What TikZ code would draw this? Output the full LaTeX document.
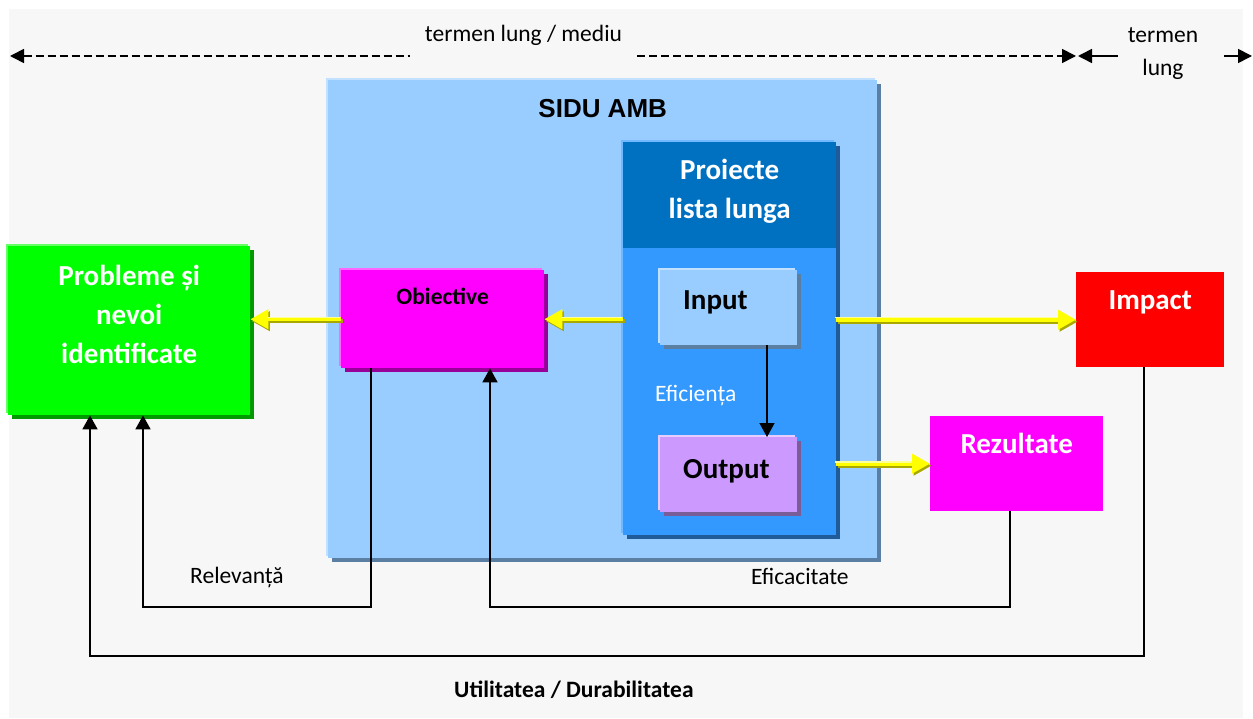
\documentclass[tikz,border=0pt]{standalone}
\usepackage{fontspec}
\setmainfont{Carlito}
\newfontfamily\arialfont{Liberation Sans}
\usepackage{tikz}
\usetikzlibrary{arrows.meta,positioning,shadows}
\definecolor{sidBg}{HTML}{F7F7F7}
\definecolor{sidLight}{HTML}{99CCFF}
\definecolor{sidLightHi}{HTML}{C2E0FF}
\definecolor{sidLightSh}{HTML}{5A7FA3}
\definecolor{sidDark}{HTML}{0070C0}
\definecolor{sidMid}{HTML}{3399FF}
\definecolor{sidMidHi}{HTML}{70B8FF}
\definecolor{sidMidSh}{HTML}{1F5A99}
\definecolor{sidGreen}{HTML}{00FF00}
\definecolor{sidGreenHi}{HTML}{66FF66}
\definecolor{sidGreenSh}{HTML}{009900}
\definecolor{sidMagenta}{HTML}{FF00FF}
\definecolor{sidMagentaHi}{HTML}{FF66FF}
\definecolor{sidMagentaSh}{HTML}{990099}
\definecolor{sidLilac}{HTML}{CC99FF}
\definecolor{sidLilacHi}{HTML}{E6CCFF}
\definecolor{sidLilacSh}{HTML}{7A5C99}
\definecolor{sidRed}{HTML}{FF0000}
\definecolor{sidYellow}{HTML}{FFFF00}
\definecolor{sidPale}{HTML}{FFFF99}
\definecolor{sidOlive}{HTML}{A8A800}

\begin{document}
\begin{tikzpicture}[
  x=1pt, y=-1pt,
  font=\fontsize{23.5}{33}\selectfont,
  sbox/.style={inner sep=0pt, align=center, anchor=north west},
  bigtext/.style={font=\bfseries\fontsize{29}{39}\selectfont},
  boxshadow/.style 2 args={general shadow={fill=#2, shadow xshift=-2pt, shadow yshift=2pt},
    general shadow={fill=#1, shadow xshift=4pt, shadow yshift=-4pt}},
  fb/.style={-{Triangle[length=14pt,width=15pt]}, line width=1.8pt, draw=black},
  spanline/.style={line width=1.6pt, draw=black},
  yarrow/.style={-{Triangle[length=18pt,width=19pt]}, line width=4pt, draw=sidYellow},
  yunder/.style={-{Triangle[length=18pt,width=19pt]}, line width=4pt, draw=sidOlive, transform canvas={shift={(1.5pt,-2pt)}}},
  yover/.style={line width=1.2pt, draw=sidPale, shorten >=18pt, transform canvas={shift={(-1pt,1.8pt)}}},
  lbl/.style={inner sep=0pt}
]
  \fill[white] (0,0) rectangle (1253,719);
  \useasboundingbox (0,0) rectangle (1253,719);
  \fill[sidBg] (9,9) rectangle (1243,718);

  % time span on top
  \coordinate (tl) at (10,56);
  \coordinate (tr) at (1076,56);
  \coordinate (tl2) at (1078,56);
  \coordinate (tr2) at (1252,56);
  \node[lbl, inner xsep=15pt, anchor=base] (tlm) at (523.5,42) {termen lung / mediu};
  \node[lbl, inner xsep=10pt, align=center] (tlg) at (1163,54) {termen\\lung};
  \draw[spanline, dash pattern=on 8pt off 4pt, {Triangle[length=14pt,width=14pt]}-] (tl) -- (tl -| tlm.west);
  \draw[spanline, dash pattern=on 8pt off 4pt, -{Triangle[length=14pt,width=14pt]}] (tlm.east |- tl) -- (tr);
  \draw[spanline, {Triangle[length=14pt,width=14pt]}-] (tl2) -- (tl2 -| tlg.west);
  \draw[spanline, -{Triangle[length=14pt,width=14pt]}] ([xshift=16pt]tlg.east |- tl2) -- (tr2);

  % boxes
  \node[sbox, fill=sidLight, boxshadow={sidLightSh}{sidLightHi}, font=\arialfont\bfseries\fontsize{26}{30}\selectfont,
    minimum width=549pt, text height=37pt, text depth=441pt] (sidu) at (328,80) {SIDU AMB};
  \node[sbox, fill=sidMid, boxshadow={sidMidSh}{sidMidHi}, minimum width=213pt, minimum height=393pt] (proiectb) at (623,142) {};
  \node[sbox, fill=sidDark, text=white, bigtext, minimum width=213pt, text height=76pt, text depth=30pt] (proiect) at (623,142) {Proiecte\\lista lunga};
  \node[sbox, fill=sidLight, boxshadow={sidLightSh}{sidLightHi}, bigtext, align=left, text width=91pt, inner xsep=23pt,
    text height=39pt, text depth=36pt] (input) at (660,270) {Input};
  \node[sbox, fill=sidLilac, boxshadow={sidLilacSh}{sidLilacHi}, bigtext, align=left, text width=91pt, inner xsep=23pt,
    text height=41pt, text depth=34pt] (output) at (660,437) {Output};
  \node[lbl, text=white, anchor=base west] (efic) at (655,401) {Eficiența};
  \node[sbox, fill=sidMagenta, boxshadow={sidMagentaSh}{sidMagentaHi}, font=\bfseries\fontsize{23.5}{28}\selectfont,
    minimum width=203pt, text height=34pt, text depth=64pt] (obiect) at (341,270) {Obiective};
  \node[sbox, fill=sidGreen, boxshadow={sidGreenSh}{sidGreenHi}, text=white, bigtext, minimum width=242pt,
    text height=117pt, text depth=52pt] (probl) at (8,246) {Probleme și\\nevoi\\identificate};
  \node[sbox, fill=sidRed, text=white, bigtext, minimum width=148pt, text height=37pt, text depth=58pt] (impact) at (1076,272) {Impact};
  \node[sbox, fill=sidMagenta, text=white, bigtext, minimum width=173pt, text height=37pt, text depth=58pt] (rezult) at (930,416) {Rezultate};

  % flows
  \draw[fb, line width=1.5pt] ([xshift=107pt]input.south west) -- ([xshift=107pt]output.north west);
  \foreach \src/\dst in {impact.west -| proiectb.east/impact.west,
                         rezult.west -| proiectb.east/rezult.west,
                         obiect.east -| proiectb.west/obiect.east,
                         obiect.west/obiect.west -| probl.east} {
    \draw[yunder] (\src) -- (\dst);
    \draw[yarrow] (\src) -- (\dst);
    \draw[yover] (\src) -- (\dst);
  }

  % evaluation loops
  \coordinate (lowA) at (0,607);
  \coordinate (lowB) at (0,656);
  \draw[fb] ([xshift=30pt]obiect.south west) |- ([xshift=135pt]probl.south west |- lowA) -- ([xshift=135pt]probl.south west);
  \draw[fb] ([xshift=80pt]rezult.south west) |- ([xshift=149pt]obiect.south west |- lowA) -- ([xshift=149pt]obiect.south west);
  \draw[fb] ([xshift=68pt]impact.south west) |- ([xshift=82pt]probl.south west |- lowB) -- ([xshift=82pt]probl.south west);
  \node[lbl, anchor=base west] (relev) at (190,583) {Relevanță};
  \node[lbl, anchor=base west] (eficac) at (751,584) {Eficacitate};
  \node[lbl, anchor=base west, font=\bfseries\fontsize{23.5}{28}\selectfont] (util) at (454,697) {Utilitatea / Durabilitatea};
\end{tikzpicture}
\end{document}
